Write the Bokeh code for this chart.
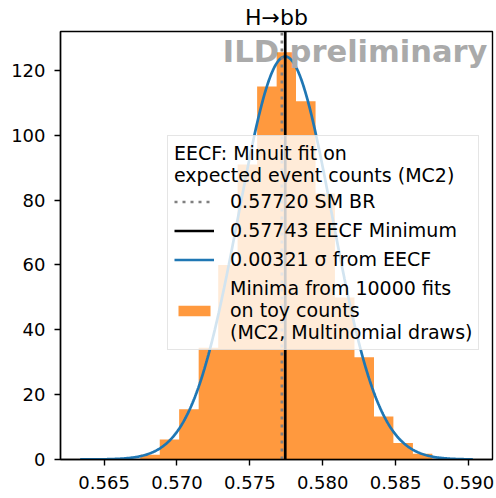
import numpy as np
from bokeh.plotting import figure
from bokeh.models import Legend, LegendItem, Label, Range1d, FixedTicker
from bokeh.embed import file_html
from bokeh.resources import INLINE

# ---- data ----
bin_edges = [0.56748, 0.56882, 0.57015, 0.57149, 0.57283, 0.57416, 0.57550, 0.57684,
             0.57817, 0.57951, 0.58084, 0.58218, 0.58352, 0.58485, 0.58619, 0.58752]
bin_density = [1.5, 6.2, 15.5, 34.5, 60.0, 91.0, 115.0, 125.6,
               110.5, 82.0, 50.0, 31.5, 13.3, 5.1, 1.8]
sm_br = 0.57720
eecf_min = 0.57743
eecf_sigma = 0.00321
curve_range = [0.56336, 0.59030]
x_ticks = [0.565, 0.570, 0.575, 0.580, 0.585, 0.590]
y_ticks = [0, 20, 40, 60, 80, 100, 120]
title_text = "H→bb"
watermark = "ILD preliminary"
legend_title = "EECF: Minuit fit on\nexpected event counts (MC2)"
lbl_sm = "%.5f SM BR" % sm_br
lbl_min = "%.5f EECF Minimum" % eecf_min
lbl_sig = "%.5f σ from EECF" % eecf_sigma
lbl_hist = "Minima from 10000 fits\non toy counts\n(MC2, Multinomial draws)"

FONT = "DejaVu Sans"
x_lo, x_hi = 0.56201, 0.59165
y_lo, y_hi = 0.0, 132.0

p = figure(width=496, height=498, output_backend="svg", toolbar_location=None,
           x_range=Range1d(x_lo, x_hi), y_range=Range1d(y_lo, y_hi),
           min_border_left=60, min_border_right=4, min_border_bottom=39, min_border_top=31)
p.background_fill_color = "white"
p.border_fill_color = "white"
p.outline_line_color = "black"
p.outline_line_width = 1.4
p.xgrid.visible = False
p.ygrid.visible = False

p.title.text = title_text
p.title.align = "center"
p.title.text_font = FONT
p.title.text_font_size = "22px"
p.title.text_font_style = "normal"
p.title.text_color = "black"
p.title.standoff = 4
p.title.offset = 0

# histogram outline as one step polygon built from the bin arrays
hx, hy = [bin_edges[0]], [0.0]
for i, d in enumerate(bin_density):
    hx += [bin_edges[i], bin_edges[i + 1]]
    hy += [d, d]
hx.append(bin_edges[-1])
hy.append(0.0)
r_hist = p.patch(hx, hy, fill_color="#ff7f0e", fill_alpha=0.8, line_color=None)

xs = np.linspace(curve_range[0], curve_range[1], 500)
ys = np.exp(-0.5 * ((xs - eecf_min) / eecf_sigma) ** 2) / (np.sqrt(2 * np.pi) * eecf_sigma)
r_curve = p.line(xs, ys, line_color="#1f77b4", line_width=2.7)

r_sm = p.line([sm_br, sm_br], [y_lo, y_hi], line_color="#808080", line_width=2.7,
              line_dash="3 5")
r_min = p.line([eecf_min, eecf_min], [y_lo, y_hi], line_color="black", line_width=2.7)

lab = Label(x=x_hi, x_offset=-5, y=124.6, y_offset=4, text=watermark, text_align="right",
            text_baseline="alphabetic", text_font=FONT, text_font_size="30.5px",
            text_font_style="bold", text_color="#aaaaaa")
p.add_layout(lab)

for ax in (p.xaxis[0], p.yaxis[0]):
    ax.axis_line_width = 1.4
    ax.major_tick_line_width = 1.4
    ax.major_tick_out = 6
    ax.major_tick_in = 0
    ax.minor_tick_out = 0
    ax.minor_tick_in = 0
    ax.major_label_text_font = FONT
    ax.major_label_text_font_size = "18px"
    ax.major_label_text_color = "black"
p.xaxis.major_label_standoff = 10
p.yaxis.major_label_standoff = 9
p.xaxis.ticker = FixedTicker(ticks=x_ticks)
p.yaxis.ticker = FixedTicker(ticks=y_ticks)
p.xaxis.major_label_overrides = {t: "%.3f" % t for t in x_ticks}

legend = Legend(items=[LegendItem(label=lbl_sm, renderers=[r_sm]),
                       LegendItem(label=lbl_min, renderers=[r_min]),
                       LegendItem(label=lbl_sig, renderers=[r_curve]),
                       LegendItem(label=lbl_hist, renderers=[r_hist])],
                location=(107, 109), title=legend_title)
legend.title_text_font = FONT
legend.title_text_font_size = "19px"
legend.title_text_font_style = "normal"
legend.title_text_color = "black"
legend.title_text_line_height = 1.05
legend.title_standoff = 4
legend.label_text_font = FONT
legend.label_text_font_size = "19px"
legend.label_text_color = "black"
legend.label_text_line_height = 1.05
legend.glyph_width = 40
legend.glyph_height = 13
legend.label_standoff = 16
legend.label_height = 21
legend.spacing = 7
legend.padding = 6
legend.margin = 0
legend.border_line_color = "#cccccc"
legend.border_line_width = 1
legend.background_fill_color = "white"
legend.background_fill_alpha = 0.8
p.add_layout(legend)

open("out.html", "w").write(file_html(p, INLINE))
